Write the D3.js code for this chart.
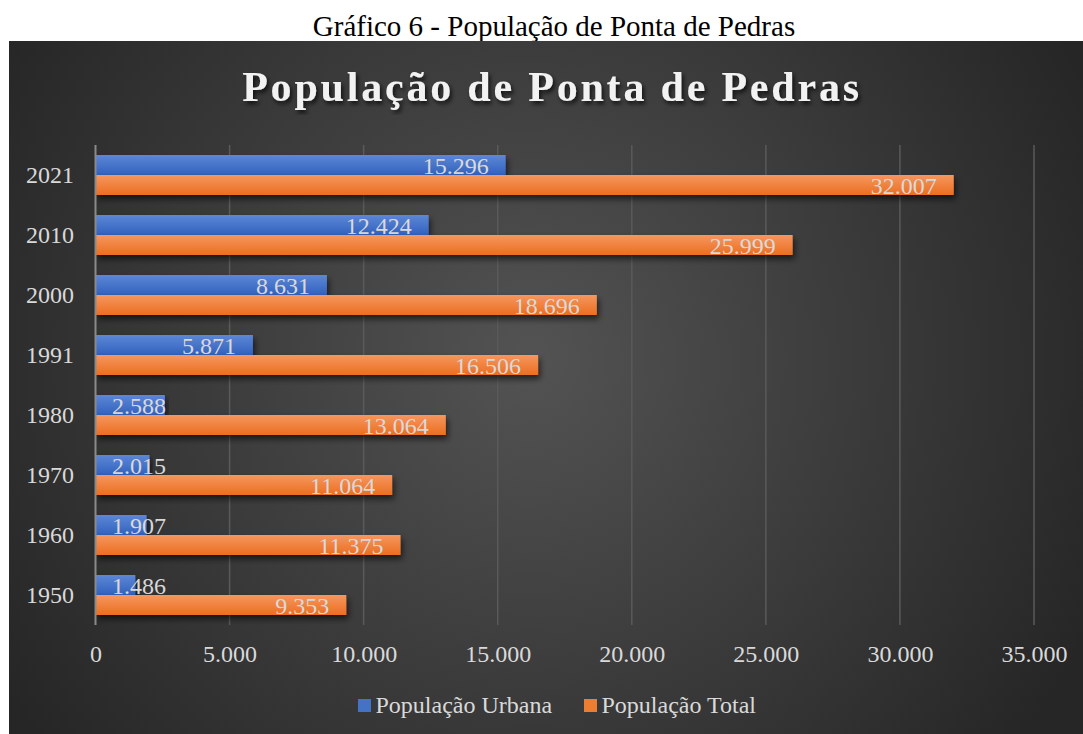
<!DOCTYPE html>
<html>
<head>
<meta charset="utf-8">
<script src="https://cdn.jsdelivr.net/npm/d3@7"></script>
<style>
  body { margin: 0; background: #fff; }
  svg { display: block; font-family: "Liberation Serif", "Times New Roman", serif; }
</style>
</head>
<body>
<div class="wrapper"></div>
<script>
// ---- data ----
var years = ["2021", "2010", "2000", "1991", "1980", "1970", "1960", "1950"];
var urbana = [15296, 12424, 8631, 5871, 2588, 2015, 1907, 1486];
var total = [32007, 25999, 18696, 16506, 13064, 11064, 11375, 9353];
var seriesNames = ["População Urbana", "População Total"];
var xTicks = [0, 5000, 10000, 15000, 20000, 25000, 30000, 35000];

var W = 1083, H = 734;
var PLOT_LEFT = 95.5, PLOT_RIGHT = 1034, PLOT_TOP = 145, PLOT_BOTTOM = 625;
var FONT = 24;

var ptBR = d3.formatLocale({decimal: ",", thousands: ".", grouping: [3], currency: ["R$", ""]});
var fmt = ptBR.format(",d");

var svg = d3.select(".wrapper")
	.append("svg")
		.attr("width", W)
		.attr("height", H);

var defs = svg.append("defs");

var bg = defs.append("radialGradient")
	.attr("id", "bgGrad")
	.attr("gradientUnits", "userSpaceOnUse")
	.attr("cx", 530).attr("cy", 360).attr("r", 620);
bg.append("stop").attr("offset", "0%").attr("stop-color", "#535353");
bg.append("stop").attr("offset", "100%").attr("stop-color", "#262626");

function barGrad(id, top, bottom) {
	var g = defs.append("linearGradient")
		.attr("id", id)
		.attr("x1", 0).attr("y1", 0).attr("x2", 0).attr("y2", 1);
	g.append("stop").attr("offset", "0%").attr("stop-color", top);
	g.append("stop").attr("offset", "100%").attr("stop-color", bottom);
}
barGrad("gradBlue", "#5d87d6", "#3162bf");
barGrad("gradOrange", "#f5975f", "#ec6e20");

var shadow = defs.append("filter").attr("id", "shadow")
	.attr("x", "-5%").attr("y", "-30%").attr("width", "110%").attr("height", "180%");
shadow.append("feDropShadow")
	.attr("dx", 2).attr("dy", 4).attr("stdDeviation", 3)
	.attr("flood-color", "#000").attr("flood-opacity", 0.6);

var titleShadow = defs.append("filter").attr("id", "tshadow");
titleShadow.append("feDropShadow")
	.attr("dx", 2).attr("dy", 3).attr("stdDeviation", 2)
	.attr("flood-color", "#000").attr("flood-opacity", 0.7);

// caption above the chart box
svg.append("text")
	.attr("x", 554).attr("y", 36)
	.attr("text-anchor", "middle")
	.attr("font-size", 29)
	.attr("fill", "#000")
	.text("Gráfico 6 - População de Ponta de Pedras");

// chart box
svg.append("rect")
	.attr("x", 9).attr("y", 41)
	.attr("width", W - 9).attr("height", H - 41)
	.attr("fill", "url(#bgGrad)");

svg.append("text")
	.attr("x", 552).attr("y", 101)
	.attr("text-anchor", "middle")
	.attr("font-size", 42)
	.attr("font-weight", "bold")
	.attr("letter-spacing", 2.8)
	.attr("fill", "#f2f2f2")
	.attr("filter", "url(#tshadow)")
	.text("População de Ponta de Pedras");

// scales
var x = d3.scaleLinear().domain([0, 35000]).range([PLOT_LEFT, PLOT_RIGHT]);
var y = d3.scaleBand().domain(years).range([PLOT_TOP, PLOT_BOTTOM])
	.paddingInner(1 / 3).paddingOuter(1 / 6);
var ySub = d3.scaleBand().domain([0, 1]).range([0, y.bandwidth()]);

// gridlines
svg.append("g")
	.selectAll("line")
	.data(xTicks.slice(1))
	.enter()
	.append("line")
		.attr("x1", function(d) { return x(d); })
		.attr("x2", function(d) { return x(d); })
		.attr("y1", PLOT_TOP).attr("y2", PLOT_BOTTOM)
		.attr("stroke", "#5a5a5a")
		.attr("stroke-width", 1.5);

// x axis labels
var xAxis = svg.append("g")
	.attr("transform", "translate(0," + 662 + ")")
	.call(d3.axisBottom(x).tickValues(xTicks).tickFormat(fmt).tickSize(0).tickPadding(0));
xAxis.select(".domain").remove();
xAxis.selectAll("text")
	.attr("font-family", "Liberation Serif, serif")
	.attr("font-size", FONT)
	.attr("fill", "#d9d9d9")
	.attr("dy", 0);

// y axis labels
var yAxis = svg.append("g")
	.attr("transform", "translate(" + 74 + ",0)")
	.call(d3.axisLeft(y).tickSize(0).tickPadding(0));
yAxis.select(".domain").remove();
yAxis.selectAll("text")
	.attr("font-family", "Liberation Serif, serif")
	.attr("font-size", FONT)
	.attr("fill", "#d9d9d9")
	.attr("dy", "0.35em");

// bars
var rows = years.map(function(yr, i) { return {year: yr, vals: [urbana[i], total[i]]}; });
var fills = ["url(#gradBlue)", "url(#gradOrange)"];

var groups = svg.append("g")
	.selectAll("g")
	.data(rows)
	.enter()
	.append("g")
		.attr("transform", function(d) { return "translate(0," + y(d.year) + ")"; });

var cells = groups.selectAll("g")
	.data(function(d) { return d.vals.map(function(v, k) { return {v: v, k: k}; }); })
	.enter()
	.append("g");

cells.append("rect")
	.attr("x", x(0))
	.attr("y", function(d) { return ySub(d.k); })
	.attr("width", function(d) { return x(d.v) - x(0); })
	.attr("height", ySub.bandwidth())
	.attr("fill", function(d) { return fills[d.k]; })
	.attr("filter", "url(#shadow)");

// axis line at zero, over bars
svg.append("line")
	.attr("x1", x(0)).attr("x2", x(0))
	.attr("y1", PLOT_TOP).attr("y2", PLOT_BOTTOM)
	.attr("stroke", "#8a8a8a")
	.attr("stroke-width", 2);

// value labels, inside end (pushed right when the bar is too short)
cells.append("text")
	.attr("x", function(d) { return Math.max(x(d.v) - 17, x(0) + 70.5); })
	.attr("y", function(d) { return ySub(d.k) + ySub.bandwidth() - 1.5; })
	.attr("text-anchor", "end")
	.attr("font-size", FONT)
	.attr("fill", "#d9d9d9")
	.text(function(d) { return fmt(d.v); });

// legend
var legendColors = ["#4472c4", "#ed7d31"];
var legendX = [358, 584];
var legend = svg.append("g")
	.selectAll("g")
	.data(seriesNames)
	.enter()
	.append("g")
		.attr("transform", function(d, i) { return "translate(" + legendX[i] + ",0)"; });
legend.append("rect")
	.attr("x", 0).attr("y", 699)
	.attr("width", 13).attr("height", 13)
	.attr("fill", function(d, i) { return legendColors[i]; });
legend.append("text")
	.attr("x", 17.5).attr("y", 713)
	.attr("font-size", FONT)
	.attr("fill", "#d9d9d9")
	.text(function(d) { return d; });
</script>
</body>
</html>
